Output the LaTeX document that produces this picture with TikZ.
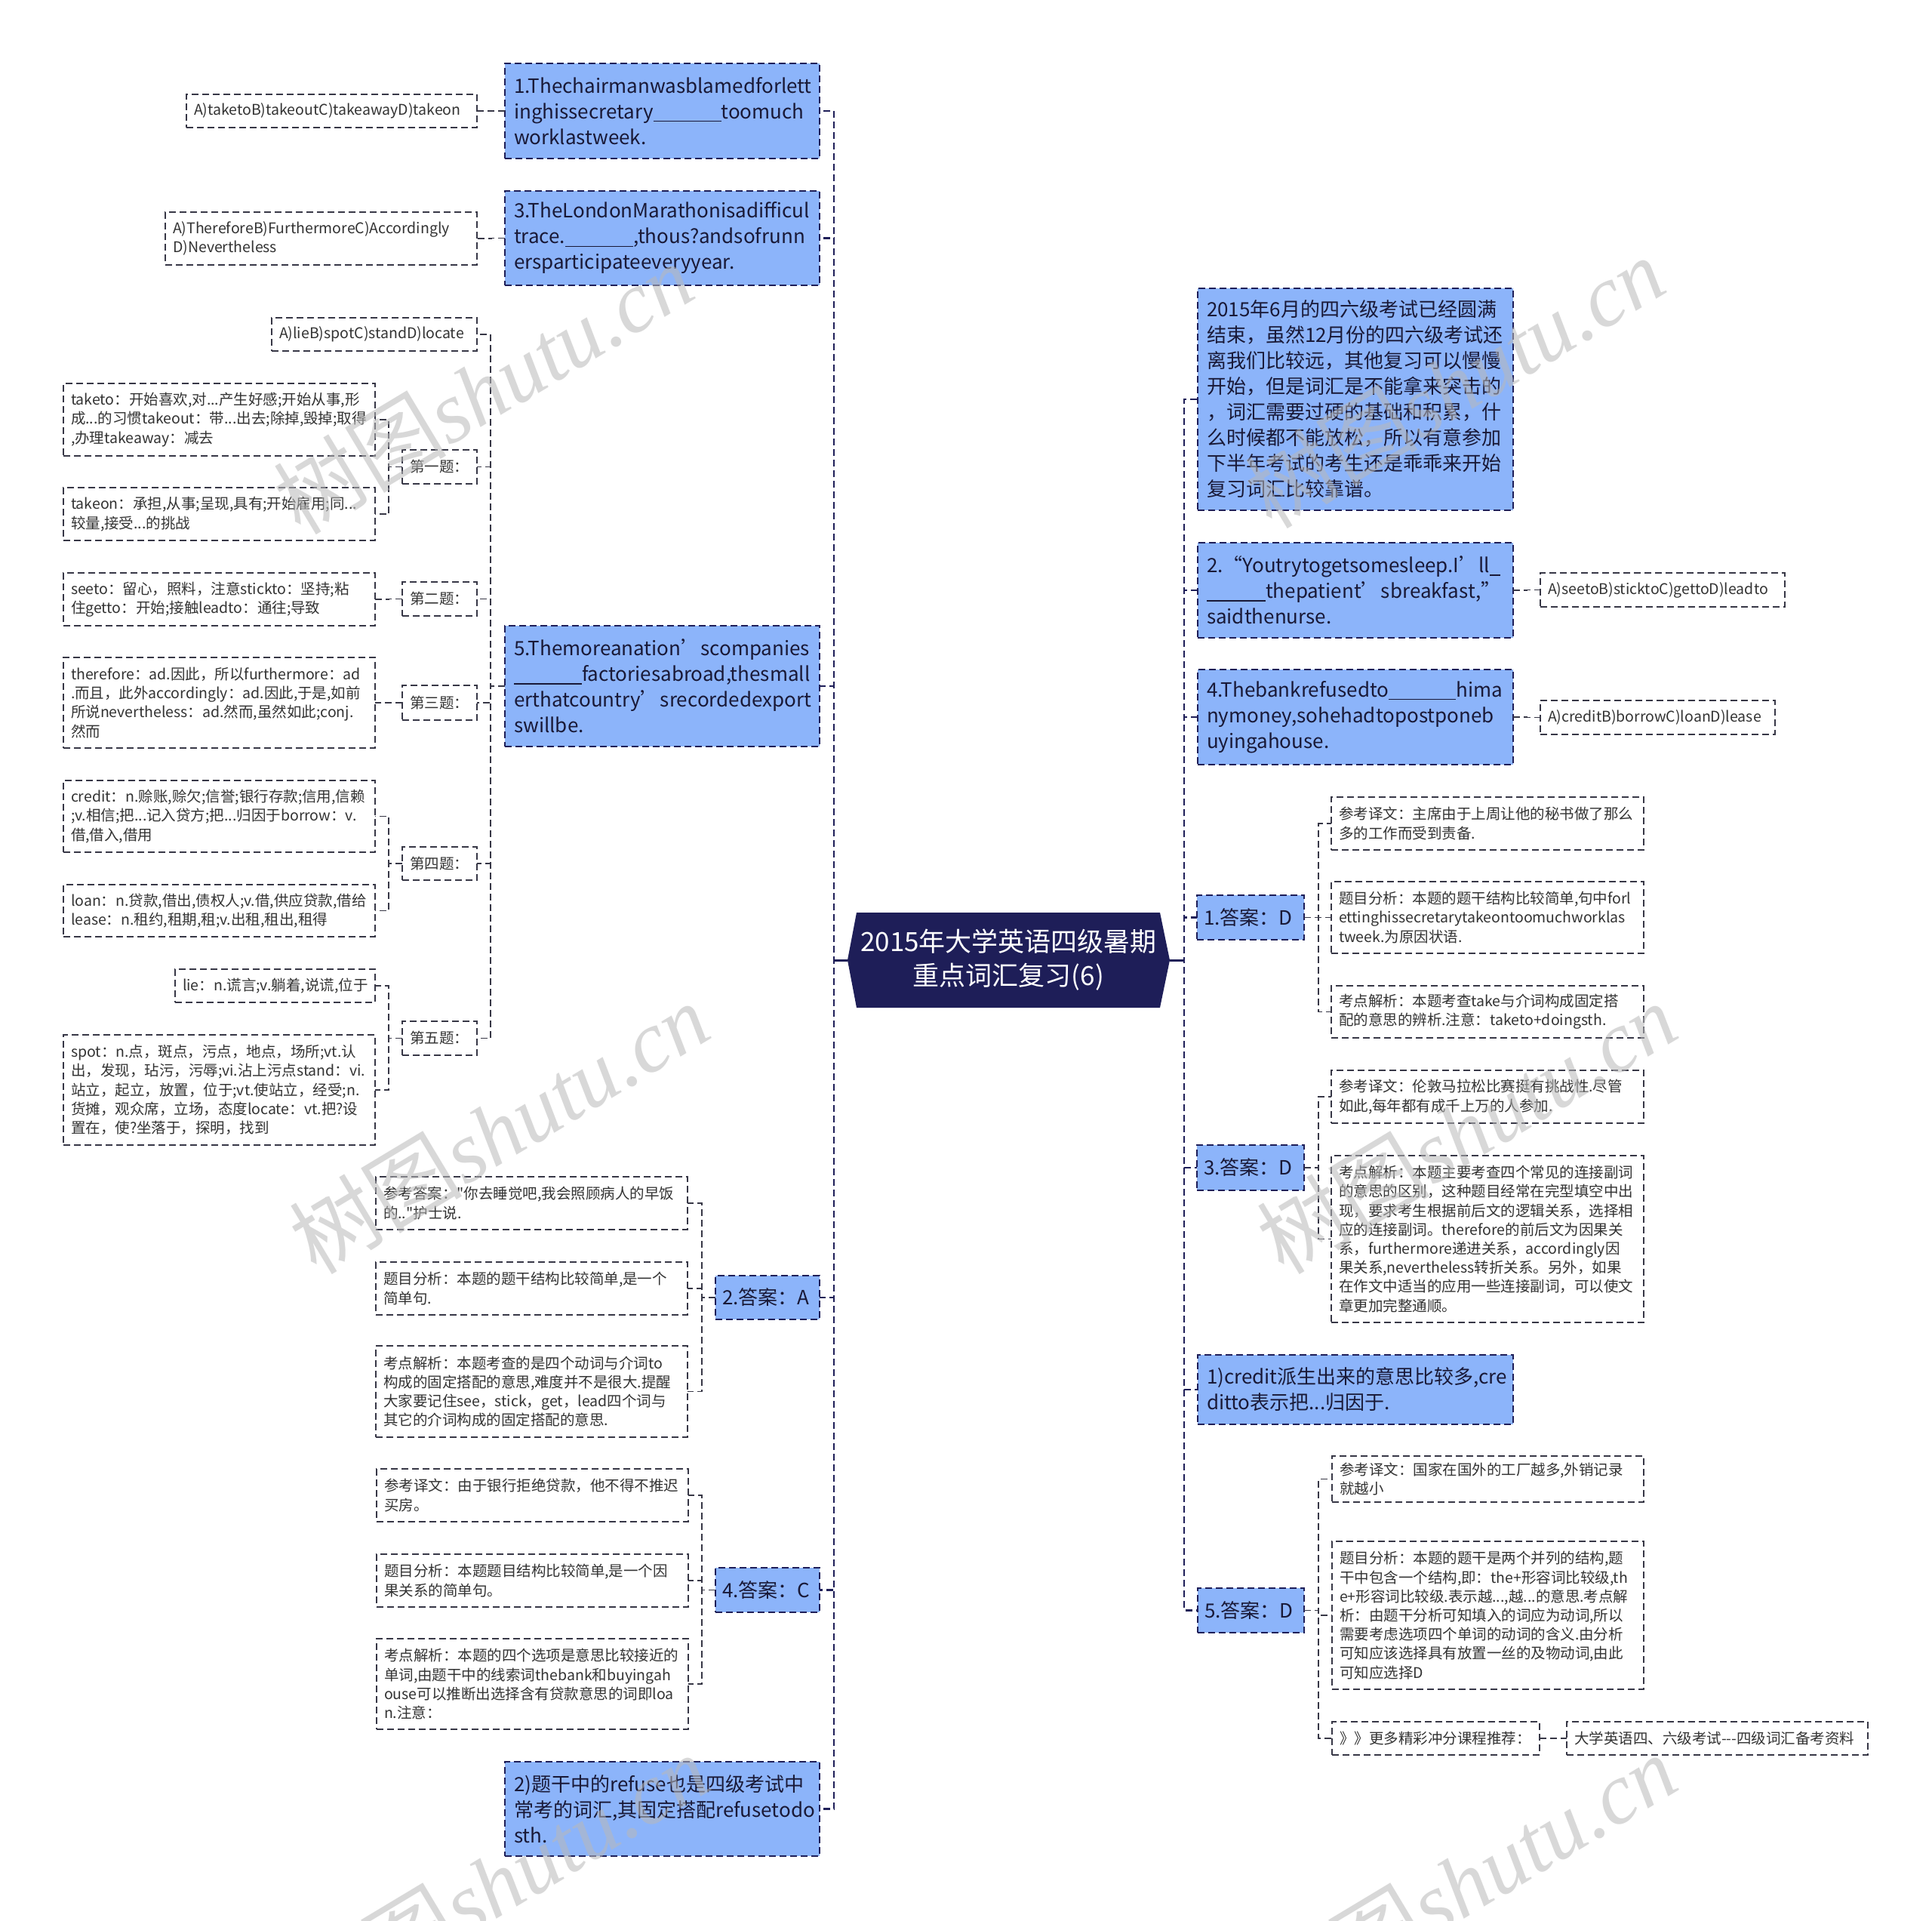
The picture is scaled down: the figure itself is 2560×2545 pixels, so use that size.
\documentclass[tikz,border=0pt]{standalone}
\usepackage{fontspec}
\setmainfont{Noto Sans CJK SC}
\newfontfamily\plainq{Noto Sans CJK SC}
\newfontfamily\wmfont{Liberation Serif}
\newfontfamily\wmcjk{Noto Sans CJK SC}
\usetikzlibrary{calc}
\definecolor{navy}{RGB}{30,30,88}
\definecolor{bluefill}{RGB}{140,180,250}
\definecolor{txtdark}{RGB}{25,25,55}
\definecolor{txtgray}{RGB}{51,51,51}
\definecolor{linegray}{RGB}{55,55,70}
\definecolor{wmgray}{RGB}{185,185,185}
\pgfdeclarelayer{bg}
\pgfsetlayers{bg,main}
\newcommand\blank[1]{\rule[-4pt]{#1pt}{1.4pt}}
\newcommand\dq{{\plainq "}}
% #1 style, #2 pad, #3 name, #4 x1, #5 y1, #6 x2, #7 y2, #8 text
\newcommand\mybox[8]{%
  \pgfmathsetmacro\bw{#6-#4}%
  \pgfmathsetmacro\bh{#7-#5}%
  \pgfmathsetmacro\bcx{(#4+#6)/2}%
  \pgfmathsetmacro\bcy{-(#5+#7)/2}%
  \pgfmathsetmacro\tw{#6-#4-2*#2}%
  \node[#1, inner xsep=#2pt, minimum width=\bw pt, minimum height=\bh pt, text width=\tw pt] (#3) at (\bcx pt,\bcy pt) {#8};%
}
\tikzset{
  dsh/.style={dash pattern=on 9pt off 5pt},
  blue/.style={draw=navy, line width=2pt, dsh, fill=bluefill, inner ysep=0pt, outer sep=0pt,
    align=left, font=\fontsize{26}{34}\selectfont, text=txtdark},
  ans/.style={blue},
  small/.style={draw=linegray, line width=1.8pt, dsh, fill=white, inner ysep=0pt, outer sep=0pt,
    align=left, font=\fontsize{19.5}{25.2}\selectfont, text=txtgray},
  trunk/.style={draw=navy, line width=2.6pt, dsh},
  conn/.style={draw=linegray, line width=1.8pt, dsh},
  stub/.style={draw=navy, line width=3pt},
  wm/.style={text=wmgray, opacity=0.55, rotate=31, font=\fontsize{115}{115}\selectfont}
}
\begin{document}
\begin{tikzpicture}[x=1pt,y=1pt]
\useasboundingbox (0,0) rectangle (2560,-2545);

% central node
\node[minimum width=427pt, minimum height=126pt, inner sep=0pt, outer sep=0pt, text=white, align=center,
  font=\fontsize{35}{45}\selectfont] (C) at (1336.5,-1272) {2015年大学英语四级暑期\\重点词汇复习(6)};
\begin{pgfonlayer}{bg}
\fill[white] (0,0) rectangle (2560,-2545);
\fill[navy] ($(C.north west)+(12,0)$) -- (C.west) -- ($(C.south west)+(12,0)$)
  -- ($(C.south east)+(-13,0)$) -- (C.east) -- ($(C.north east)+(-13,0)$) -- cycle;
\end{pgfonlayer}

% ---------- left side level 1 ----------
\mybox{blue}{12}{L1}{669}{84}{1086}{210}{1.Thechairmanwasblamedforlett\\inghissecretary\blank{90}toomuch\\worklastweek.}
\mybox{blue}{12}{L2}{669}{253}{1086}{378}{3.TheLondonMarathonisadifficul\\trace.\blank{90},thous?andsofrunn\\ersparticipateeveryyear.}
\mybox{blue}{12}{L3}{669}{829}{1086}{989}{5.Themoreanation’scompanies\\\blank{90}factoriesabroad,thesmall\\erthatcountry’srecordedexport\\swillbe.}
\mybox{ans}{9}{L4}{948}{1690}{1086}{1748}{2.答案：A}
\mybox{ans}{9}{L5}{948}{2077}{1086}{2136}{4.答案：C}
\mybox{blue}{12}{L6}{669}{2334}{1086}{2459}{2)题干中的refuse也是四级考试中\\常考的词汇,其固定搭配refusetodo\\sth.}

% left level 2
\mybox{small}{10}{O1}{247}{125}{632}{169}{A)taketoB)takeoutC)takeawayD)takeon}
\mybox{small}{10}{O2}{219}{281}{632}{351}{A)ThereforeB)FurthermoreC)Accordingly\\D)Nevertheless}
\mybox{small}{10}{O3}{360}{421}{632}{465}{A)lieB)spotC)standD)locate}
\mybox{small}{10}{Q1}{533}{596}{632}{641}{第一题：}
\mybox{small}{10}{Q2}{533}{771}{632}{816}{第二题：}
\mybox{small}{10}{Q3}{533}{908}{632}{954}{第三题：}
\mybox{small}{10}{Q4}{533}{1122}{632}{1166}{第四题：}
\mybox{small}{10}{Q5}{533}{1353}{632}{1398}{第五题：}

% left level 3
\mybox{small}{10}{T1}{84}{508}{497}{604}{taketo：开始喜欢,对...产生好感;开始从事,形\\成...的习惯takeout：带...出去;除掉,毁掉;取得\\,办理takeaway：减去}
\mybox{small}{10}{T2}{84}{646}{497}{716}{takeon：承担,从事;呈现,具有;开始雇用;同...\\较量,接受...的挑战}
\mybox{small}{10}{T3}{84}{759}{497}{829}{seeto：留心，照料，注意stickto：坚持;粘\\住getto：开始;接触leadto：通往;导致}
\mybox{small}{10}{T4}{84}{871}{497}{991}{therefore：ad.因此，所以furthermore：ad\\.而且，此外accordingly：ad.因此,于是,如前\\所说nevertheless：ad.然而,虽然如此;conj.\\然而}
\mybox{small}{10}{T5}{84}{1034}{497}{1129}{credit：n.赊账,赊欠;信誉;银行存款;信用,信赖\\;v.相信;把...记入贷方;把...归因于borrow：v.\\借,借入,借用}
\mybox{small}{10}{T6}{84}{1172}{497}{1241}{loan：n.贷款,借出,债权人;v.借,供应贷款,借给\\lease：n.租约,租期,租;v.出租,租出,租得}
\mybox{small}{10}{T7}{232}{1284}{497}{1328}{lie：n.谎言;v.躺着,说谎,位于}
\mybox{small}{10}{T8}{84}{1371}{497}{1517}{spot：n.点，斑点，污点，地点，场所;vt.认\\出，发现，玷污，污辱;vi.沾上污点stand：vi.\\站立，起立，放置，位于;vt.使站立，经受;n.\\货摊，观众席，立场，态度locate：vt.把?设\\置在，使?坐落于，探明，找到}

\mybox{small}{10}{A1}{498}{1559}{911}{1629}{参考答案：\dq 你去睡觉吧,我会照顾病人的早饭\\的..\dq 护士说.}
\mybox{small}{10}{A2}{498}{1672}{911}{1742}{题目分析：本题的题干结构比较简单,是一个\\简单句.}
\mybox{small}{10}{A3}{498}{1783}{911}{1904}{考点解析：本题考查的是四个动词与介词to\\构成的固定搭配的意思,难度并不是很大.提醒\\大家要记住see，stick，get，lead四个词与\\其它的介词构成的固定搭配的意思.}
\mybox{small}{10}{B1}{499}{1946}{912}{2016}{参考译文：由于银行拒绝贷款，他不得不推迟\\买房。}
\mybox{small}{10}{B2}{499}{2059}{912}{2129}{题目分析：本题题目结构比较简单,是一个因\\果关系的简单句。}
\mybox{small}{10}{B3}{499}{2171}{912}{2291}{考点解析：本题的四个选项是意思比较接近的\\单词,由题干中的线索词thebank和buyingah\\ouse可以推断出选择含有贷款意思的词即loa\\n.注意：}

% ---------- right side ----------
\mybox{blue}{12}{R1}{1587}{382}{2005}{676}{2015年6月的四六级考试已经圆满\\结束，虽然12月份的四六级考试还\\离我们比较远，其他复习可以慢慢\\开始，但是词汇是不能拿来突击的\\，词汇需要过硬的基础和积累，什\\么时候都不能放松，所以有意参加\\下半年考试的考生还是乖乖来开始\\复习词汇比较靠谱。}
\mybox{blue}{12}{R2}{1587}{719}{2005}{845}{2.“Youtrytogetsomesleep.I’ll\blank{14}\\\blank{78}thepatient’sbreakfast,”\\saidthenurse.}
\mybox{small}{10}{RO2}{2041}{759}{2365}{804}{A)seetoB)sticktoC)gettoD)leadto}
\mybox{blue}{12}{R3}{1587}{887}{2005}{1013}{4.Thebankrefusedto\blank{89}hima\\nymoney,sohehadtopostponeb\\uyingahouse.}
\mybox{small}{10}{RO3}{2041}{928}{2352}{973}{A)creditB)borrowC)loanD)lease}
\mybox{ans}{9}{R4}{1586}{1186}{1728}{1245}{1.答案：D}
\mybox{small}{10}{D1}{1764}{1056}{2178}{1126}{参考译文：主席由于上周让他的秘书做了那么\\多的工作而受到责备.}
\mybox{small}{10}{D2}{1764}{1168}{2178}{1263}{题目分析：本题的题干结构比较简单,句中forl\\ettinghissecretarytakeontoomuchworklas\\tweek.为原因状语.}
\mybox{small}{10}{D3}{1764}{1306}{2178}{1375}{考点解析：本题考查take与介词构成固定搭\\配的意思的辨析.注意：taketo+doingsth.}
\mybox{ans}{9}{R5}{1586}{1517}{1728}{1577}{3.答案：D}
\mybox{small}{10}{E1}{1764}{1418}{2178}{1488}{参考译文：伦敦马拉松比赛挺有挑战性.尽管\\如此,每年都有成千上万的人参加.}
\mybox{small}{10}{E2}{1764}{1531}{2178}{1752}{考点解析：本题主要考查四个常见的连接副词\\的意思的区别，这种题目经常在完型填空中出\\现，要求考生根据前后文的逻辑关系，选择相\\应的连接副词。therefore的前后文为因果关\\系，furthermore递进关系，accordingly因\\果关系,nevertheless转折关系。另外，如果\\在作文中适当的应用一些连接副词，可以使文\\章更加完整通顺。}
\mybox{blue}{12}{R6}{1587}{1795}{2005}{1887}{1)credit派生出来的意思比较多,cre\\ditto表示把...归因于.}
\mybox{ans}{9}{R7}{1587}{2104}{1728}{2163}{5.答案：D}
\mybox{small}{10}{F1}{1765}{1929}{2178}{1990}{参考译文：国家在国外的工厂越多,外销记录\\就越小}
\mybox{small}{10}{F2}{1765}{2042}{2178}{2238}{题目分析：本题的题干是两个并列的结构,题\\干中包含一个结构,即：the+形容词比较级,th\\e+形容词比较级.表示越...,越...的意思.考点解\\析：由题干分析可知填入的词应为动词,所以\\需要考虑选项四个单词的动词的含义.由分析\\可知应该选择具有放置一丝的及物动词,由此\\可知应选择D}
\mybox{small}{10}{F3}{1765}{2281}{2040}{2325}{》》更多精彩冲分课程推荐：}
\mybox{small}{10}{F4}{2076}{2281}{2475}{2325}{大学英语四、六级考试-{}-{}-四级词汇备考资料}

% ---------- connectors ----------
\foreach \n in {L1,L2,L3,L4,L5,L6} \draw[trunk] (C.west) -- ++(-18,0) |- (\n.east);
\foreach \n in {R1,R2,R3,R4,R5,R6,R7} \draw[trunk] (C.east) -- ++(19,0) |- (\n.west);
\draw[stub] (C.west) -- ++(-18,0);
\draw[stub] (C.east) -- ++(19,0);

\draw[conn] (L1.west) -- ++(-18,0) |- (O1.east);
\draw[conn] (L2.west) -- ++(-18,0) |- (O2.east);
\foreach \n in {O3,Q1,Q2,Q3,Q4,Q5} \draw[conn] (L3.west) -- ++(-19,0) |- (\n.east);
\foreach \n in {T1,T2} \draw[conn] (Q1.west) -- ++(-18,0) |- (\n.east);
\draw[conn] (Q2.west) -- ++(-18,0) |- (T3.east);
\draw[conn] (Q3.west) -- ++(-18,0) |- (T4.east);
\foreach \n in {T5,T6} \draw[conn] (Q4.west) -- ++(-18,0) |- (\n.east);
\foreach \n in {T7,T8} \draw[conn] (Q5.west) -- ++(-18,0) |- (\n.east);
\foreach \n in {A1,A2,A3} \draw[conn] (L4.west) -- ++(-18,0) |- (\n.east);
\foreach \n in {B1,B2,B3} \draw[conn] (L5.west) -- ++(-18,0) |- (\n.east);

\draw[conn] (R2.east) -- ++(18,0) |- (RO2.west);
\draw[conn] (R3.east) -- ++(18,0) |- (RO3.west);
\foreach \n in {D1,D2,D3} \draw[conn] (R4.east) -- ++(19,0) |- (\n.west);
\foreach \n in {E1,E2} \draw[conn] (R5.east) -- ++(19,0) |- (\n.west);
\foreach \n in {F1,F2,F3} \draw[conn] (R7.east) -- ++(19,0) |- (\n.west);
\draw[conn] (F3.east) -- ++(18,0) |- (F4.west);

% ---------- watermarks ----------
\foreach \wx/\wy [count=\i] in {640/514, 1927/506, 661/1494, 1943/1494, 661/2490, 1943/2490}
  \node[wm] (wm\i) at (\wx,-\wy) {{\wmcjk 树图}{\wmfont\itshape shutu.cn}};
\end{tikzpicture}
\end{document}
